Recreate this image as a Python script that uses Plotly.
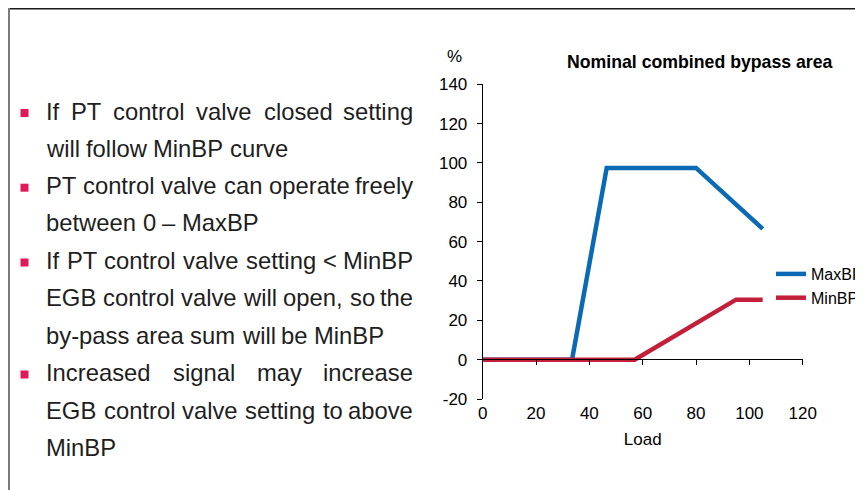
"""
Nominal combined bypass area - MaxBP / MinBP vs load, with bullet notes
"""

import plotly.graph_objects as go

PAGE_OFFSET = 8  # default body margin of the html page
W, H = 863 - PAGE_OFFSET, 490 - PAGE_OFFSET

# chart data
load_max = [0, 33.5, 46.5, 80, 105]
maxbp = [0, 0, 97.5, 97.5, 66.5]
load_min = [0, 57, 95, 105]
minbp = [0, 0, 30.5, 30.5]

x_ticks = [0, 20, 40, 60, 80, 100, 120]
y_ticks = [-20, 0, 20, 40, 60, 80, 100, 120, 140]
y_ticktext = [str(v) for v in y_ticks]

# note text: (line, justified, starts a bullet)
note_lines = [
    ("If PT control valve closed setting", True, True),
    ("will follow MinBP curve", False, False),
    ("PT control valve can operate freely", True, True),
    ("between 0 \u2013 MaxBP", False, False),
    ("If PT control valve setting < MinBP", True, True),
    ("EGB control valve will open, so the", True, False),
    ("by-pass area sum will be MinBP", False, False),
    ("Increased signal may increase", True, True),
    ("EGB control valve setting to above", True, False),
    ("MinBP", False, False),
]
line_y = [111, 148.3, 185.7, 222.7, 260.5, 297.7, 335, 372.5, 410, 447]

BLUE = '#0a6ab4'
RED = '#c41f3a'
PINK = '#e1195a'
CHART_FONT = "Liberation Sans, Arial, sans-serif"
TEXT_FONT = "Liberation Sans, Arial, sans-serif"
TEXT_SIZE = 23.8

# Arial / Liberation Sans advance widths (1/1000 em)
ARIAL = {
    ' ': 278, 'a': 556, 'b': 556, 'c': 500, 'd': 556, 'e': 556, 'f': 278, 'g': 556,
    'h': 556, 'i': 222, 'j': 222, 'k': 500, 'l': 222, 'm': 833, 'n': 556, 'o': 556,
    'p': 556, 'q': 556, 'r': 333, 's': 500, 't': 278, 'u': 556, 'v': 500, 'w': 722,
    'x': 500, 'y': 500, 'z': 500, 'A': 667, 'B': 667, 'C': 722, 'D': 722, 'E': 667,
    'F': 611, 'G': 778, 'H': 722, 'I': 278, 'M': 833, 'P': 667, 'T': 611, 'X': 667,
    '-': 333, ',': 278, '<': 584, '\u2013': 556, '0': 556,
}


def text_width(s, size):
    return sum(ARIAL.get(ch, 556) for ch in s) * size / 1000


# window pixel -> paper fraction (figure sits 8px into the page)
def px(x):
    return (x - PAGE_OFFSET) / W


def py(y):
    return 1 - (y - PAGE_OFFSET) / H


fig = go.Figure()

fig.add_trace(go.Scatter(
    x=load_max, y=maxbp, mode='lines', name='MaxBP',
    line=dict(color=BLUE, width=4.5)
))
fig.add_trace(go.Scatter(
    x=load_min, y=minbp, mode='lines', name='MinBP',
    line=dict(color=RED, width=4.5)
))

x_dom = [px(482.7), px(802.7)]
y_dom = [py(399), py(84.3)]
zero_pos = py(359.3)

fig.update_layout(
    width=W, height=H,
    margin=dict(l=0, r=0, t=0, b=0, autoexpand=False),
    paper_bgcolor='white',
    plot_bgcolor='white',
    font=dict(family=CHART_FONT, size=17, color='black'),
    xaxis=dict(
        domain=x_dom, range=[0, 120], tickvals=x_ticks,
        showline=False, showgrid=False, zeroline=False, ticks='',
        ticklabelstandoff=2,
        title=dict(text='Load', standoff=11, font=dict(size=17)),
        anchor='y', automargin=False,
    ),
    xaxis2=dict(
        domain=x_dom, range=[0, 120], tickvals=x_ticks,
        overlaying='x', anchor='free', position=zero_pos,
        showline=True, linecolor='black', linewidth=1,
        ticks='outside', ticklen=5, tickcolor='black',
        showticklabels=False, showgrid=False, zeroline=False,
    ),
    yaxis=dict(
        domain=y_dom, range=[-20, 140], tickvals=y_ticks, ticktext=y_ticktext,
        showline=True, linecolor='black', linewidth=1,
        ticks='outside', ticklen=5, tickcolor='black',
        showgrid=False, zeroline=False, ticklabelstandoff=6, automargin=False,
    ),
    legend=dict(
        x=px(771), y=py(257), xanchor='left', yanchor='top',
        font=dict(size=16), bgcolor='rgba(0,0,0,0)', tracegroupgap=0,
    ),
    showlegend=True,
)

# invisible helper so the zero-line axis gets drawn
fig.add_trace(go.Scatter(x=[0], y=[0], xaxis='x2', yaxis='y', mode='markers',
                         marker=dict(opacity=0), showlegend=False, hoverinfo='skip'))

annotations = [
    dict(text='<b>Nominal combined bypass area</b>', x=px(700), y=py(62),
         xref='paper', yref='paper', showarrow=False,
         xanchor='center', yanchor='middle', font=dict(size=17.7)),
    dict(text='%', x=px(455), y=py(57), xref='paper', yref='paper',
         showarrow=False, xanchor='center', yanchor='middle', font=dict(size=17)),
]

# justified note text, one annotation per word
left, right = 45, 413.5
for (line, justified, bullet), cy in zip(note_lines, line_y):
    words = line.split(' ')
    widths = [text_width(w, TEXT_SIZE) for w in words]
    space = text_width(' ', TEXT_SIZE)
    if justified and len(words) > 1:
        gap = (right - left - sum(widths)) / (len(words) - 1)
    else:
        gap = space
    x = left
    for i, (w, wd) in enumerate(zip(words, widths)):
        last = justified and i == len(words) - 1 and len(words) > 1
        annotations.append(dict(
            text=w, x=px(right if last else x), y=py(cy),
            xref='paper', yref='paper', showarrow=False,
            xanchor='right' if last else 'left', yanchor='middle',
            borderpad=0,
            font=dict(family=TEXT_FONT, size=TEXT_SIZE, color='#1e1e1e'),
        ))
        x += wd + gap

fig.update_layout(annotations=annotations)

# bullets and slide frame
shapes = []
for (line, justified, bullet), cy in zip(note_lines, line_y):
    if bullet:
        shapes.append(dict(type='rect', xref='paper', yref='paper',
                           x0=px(20.5), x1=px(28.5), y0=py(cy + 6), y1=py(cy - 2),
                           fillcolor=PINK, line=dict(width=0)))
shapes.append(dict(type='line', xref='paper', yref='paper',
                   x0=0, x1=1, y0=1 - 0.8 / H, y1=1 - 0.8 / H,
                   line=dict(color='#1a1a1a', width=1.5)))
shapes.append(dict(type='line', xref='paper', yref='paper',
                   x0=1 / W, x1=1 / W, y0=1, y1=0,
                   line=dict(color='#7a7a7a', width=2)))
fig.update_layout(shapes=shapes)

fig.write_html("out.html")
